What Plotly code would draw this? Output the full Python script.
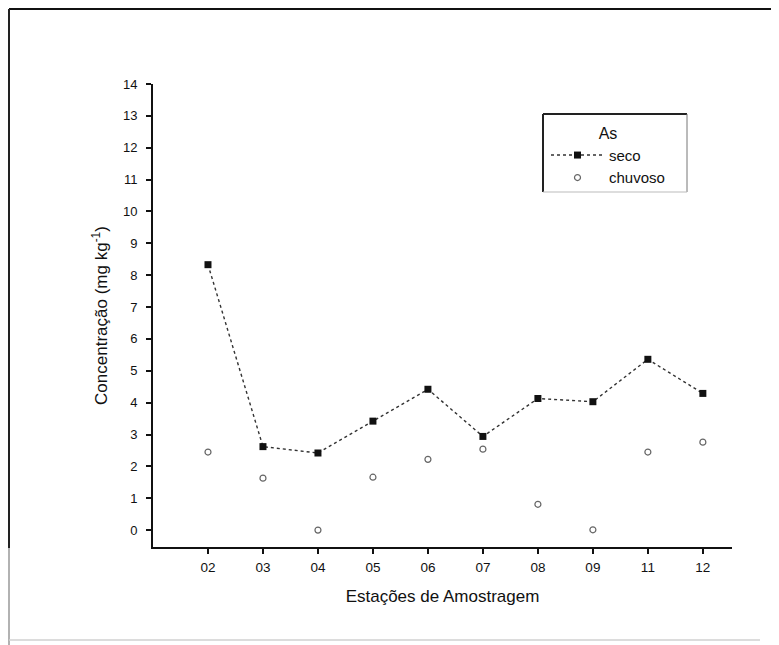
import plotly.graph_objects as go

estacoes = ["02", "03", "04", "05", "06", "07", "08", "09", "11", "12"]
seco = [8.33, 2.62, 2.42, 3.42, 4.42, 2.94, 4.13, 4.03, 5.36, 4.29]
chuvoso = [2.45, 1.63, 0.0, 1.66, 2.22, 2.54, 0.81, 0.01, 2.45, 2.76]
y_ticks = list(range(0, 15))

FONT = "Liberation Sans, Arial, sans-serif"

fig = go.Figure()
fig.add_trace(go.Scatter(
    x=estacoes, y=seco, name="seco", mode="lines+markers",
    line=dict(color="#333333", width=1.4, dash="dot"),
    marker=dict(symbol="square", size=7, color="#111111"),
))
fig.add_trace(go.Scatter(
    x=estacoes, y=chuvoso, name="chuvoso", mode="markers",
    marker=dict(symbol="circle-open", size=6, color="#666666", line=dict(width=1.2)),
))

def L(x0, y0, x1, y1, color, width):
    return dict(type="line", xref="paper", yref="paper", x0=x0, x1=x1, y0=y0, y1=y1,
                line=dict(color=color, width=width))

# figure-pixel -> paper helpers (plot area: left 145, width 579, bottom 539, height 463)
px = lambda v: (v - 145) / 579
py = lambda v: (539 - v) / 463

shapes = [
    # outer scanned frame
    L(px(1), py(1), px(779), py(1), "#111111", 2),
    L(px(1), py(1), px(1), py(540), "#222222", 2),
    L(px(1), py(540), px(1), py(645), "#999999", 1.5),
    L(px(1), py(632), px(752), py(632), "#d0d0d0", 1.5),
    L(px(770), py(20), px(770), py(640), "#eeeeee", 1),
    # legend frame
    L(px(535), py(106), px(679), py(106), "#222222", 2),
    L(px(535), py(106), px(535), py(184), "#222222", 2),
    L(px(679), py(106), px(679), py(184), "#777777", 1),
    L(px(535), py(184), px(679), py(184), "#bbbbbb", 1),
]

fig.update_layout(
    width=779, height=645,
    margin=dict(l=145, r=55, t=76, b=106),
    paper_bgcolor="white", plot_bgcolor="white",
    font=dict(family=FONT, color="#111111", size=13),
    shapes=shapes,
    legend=dict(
        x=px(538), y=py(110), xanchor="left", yanchor="top",
        borderwidth=0, bgcolor="rgba(0,0,0,0)",
        font=dict(size=15, family=FONT),
        title=dict(text="As", side="top center", font=dict(size=16, family=FONT)),
        itemwidth=53, tracegroupgap=2,
    ),
)
fig.update_xaxes(
    type="category", range=[-1, 9.53],
    showline=True, linecolor="#111111", linewidth=2,
    ticks="outside", ticklen=5, tickwidth=1.5, tickcolor="#111111",
    showgrid=False, zeroline=False,
    tickfont=dict(size=13.5), ticklabelstandoff=2,
    title=dict(text="Estações de Amostragem", font=dict(size=17), standoff=16),
)
fig.update_yaxes(
    range=[-0.53, 14.0],
    tickvals=y_ticks, ticktext=[str(v) for v in y_ticks],
    showline=True, linecolor="#111111", linewidth=2,
    ticks="outside", ticklen=5, tickwidth=1.5, tickcolor="#111111",
    showgrid=False, zeroline=False,
    tickfont=dict(size=13), ticklabelstandoff=6,
    title=dict(text="Concentração (mg kg<sup>-1</sup>)", font=dict(size=17), standoff=11),
)

fig.write_html("out.html")
